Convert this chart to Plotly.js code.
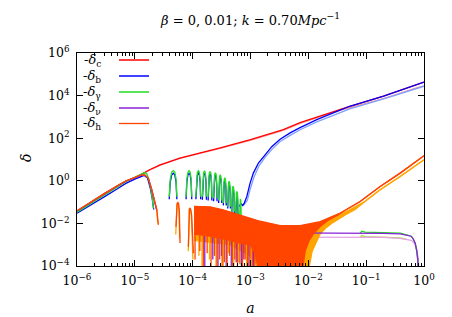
<!DOCTYPE html>
<html><head><meta charset="utf-8">
<script src="https://cdn.plot.ly/plotly-3.0.1.min.js"></script>
<style>html,body{margin:0;padding:0;background:#fff}#chart{width:452px;height:317px}</style>
</head><body><div id="chart"></div>
<script>
// ---------- tick labels ----------
const xTickVals = [1e-6, 1e-5, 1e-4, 1e-3, 1e-2, 1e-1, 1];
const xTickText = ['10<sup>−6</sup>','10<sup>−5</sup>','10<sup>−4</sup>','10<sup>−3</sup>','10<sup>−2</sup>','10<sup>−1</sup>','10<sup>0</sup>'];
const yTickVals = [1e-4, 1e-2, 1, 1e2, 1e4, 1e6];
const yTickText = ['10<sup>−4</sup>','10<sup>−2</sup>','10<sup>0</sup>','10<sup>2</sup>','10<sup>4</sup>','10<sup>6</sup>'];
const legendLabels = ['-<i>δ</i><sub>c</sub>','-<i>δ</i><sub>b</sub>','-<i>δ</i><sub>γ</sub>','-<i>δ</i><sub>ν</sub>','-<i>δ</i><sub>h</sub>'];

// ---------- δc (CDM) ----------
const cA  = [1e-6,2e-6,3e-6,5e-6,7e-6,1e-5,1.3e-5,1.8e-5,2.75e-5,6e-5,1.35e-4,3e-4,1e-3,3.7e-3,7.2e-3,1.4e-2,2.7e-2,5.2e-2,0.2,0.76,1];
const cB0 = [0.037,0.125,0.26,0.56,0.98,1.46,2.0,3.3,5.6,11.7,20,35,85,250,537,1000,1860,3160,9550,33100,42700];
const cB1 = [0.036,0.121,0.25,0.54,0.95,1.42,1.94,3.2,5.4,11.2,19,33,80,230,490,900,1650,2750,7200,23500,28500];

// ---------- δb (baryons), beta = 0 ----------
const bA = [1e-6,2e-6,3e-6,5e-6,7e-6,1e-5,1.3e-5,1.45e-5,1.65e-5,1.85e-5,2.0e-5,2.12e-5,null,
 3.93e-5,4.10e-5,4.35e-5,4.63e-5,4.91e-5,5.16e-5,5.33e-5,null,
 7.70e-5,7.94e-5,8.28e-5,8.67e-5,9.06e-5,9.40e-5,9.64e-5,null,
 1.136e-4,1.166e-4,1.208e-4,1.256e-4,1.304e-4,1.346e-4,1.376e-4,null,
 1.47e-4,1.503e-4,1.548e-4,1.6e-4,1.652e-4,1.698e-4,1.73e-4,null,
 1.85e-4,1.888e-4,1.94e-4,2.0e-4,2.06e-4,2.112e-4,2.15e-4,null,
 2.30e-4,2.342e-4,2.402e-4,2.47e-4,2.538e-4,2.598e-4,2.64e-4,null,
 2.81e-4,2.858e-4,2.924e-4,3.0e-4,3.076e-4,3.142e-4,3.19e-4,null,
 3.39e-4,3.443e-4,3.516e-4,3.6e-4,3.684e-4,3.757e-4,3.81e-4,null,
 4.04e-4,4.097e-4,4.178e-4,4.27e-4,4.362e-4,4.443e-4,4.5e-4,null,
 4.74e-4,4.805e-4,4.896e-4,5.0e-4,5.104e-4,5.195e-4,5.26e-4,null,
 5.54e-4,5.61e-4,5.708e-4,5.82e-4,5.932e-4,6.03e-4,6.10e-4,null,
 6.4e-4,6.8e-4,7.3e-4,7.8e-4,8.63e-4,9.84e-4,1.12e-3,1.37e-3,1.79e-3,2.33e-3,3.25e-3,4.84e-3,7.2e-3,1.4e-2,2.7e-2,5.2e-2,0.2,0.76,1];
const bB0 = [0.030,0.089,0.18,0.42,0.76,1.2,1.66,1.8,1.4,0.45,0.15,0.045,null,
 0.135,0.9,1.9,2.25,1.9,0.9,0.135,null,
 0.135,0.9,1.9,2.25,1.9,0.9,0.135,null,
 0.135,0.9,1.9,2.25,1.9,0.9,0.135,null,
 0.13,0.88,1.87,2.2,1.87,0.88,0.13,null,
 0.12,0.82,1.75,2.05,1.75,0.82,0.12,null,
 0.11,0.72,1.53,1.8,1.53,0.72,0.11,null,
 0.09,0.57,1.2,1.42,1.2,0.57,0.09,null,
 0.07,0.42,0.88,1.04,0.88,0.42,0.07,null,
 0.05,0.29,0.6,0.72,0.6,0.29,0.05,null,
 0.03,0.17,0.36,0.43,0.36,0.17,0.03,null,
 0.02,0.1,0.21,0.25,0.21,0.1,0.02,null,
 0.06,0.085,0.07,0.09,0.18,0.78,2.3,6.8,16.6,40,89,178,316,741,1550,3160,9550,33100,42700];
// δb, beta = 0.01 (visible part)
const bA1 = [6.5e-4,7.0e-4,7.6e-4,8.8e-4,1.0e-3,1.15e-3,1.4e-3,1.8e-3,2.35e-3,3.25e-3,4.84e-3,7.2e-3,1.4e-2,2.7e-2,5.2e-2,0.2,0.76,1];
const bB1 = [0.07,0.08,0.07,0.12,0.45,1.5,5.0,13,30,70,135,250,580,1200,2400,7000,23000,27500];

// ---------- δγ (photons), beta = 0 ----------
const gA = [1e-6,2e-6,3e-6,5e-6,7e-6,1e-5,1.3e-5,1.45e-5,1.6e-5,1.75e-5,1.95e-5,2.1e-5,null,
 3.93e-5,4.10e-5,4.35e-5,4.63e-5,4.91e-5,5.16e-5,5.33e-5,null,
 7.70e-5,7.94e-5,8.28e-5,8.67e-5,9.06e-5,9.40e-5,9.64e-5,null,
 1.136e-4,1.166e-4,1.208e-4,1.256e-4,1.304e-4,1.346e-4,1.376e-4,null,
 1.47e-4,1.503e-4,1.548e-4,1.6e-4,1.652e-4,1.698e-4,1.73e-4,null,
 1.85e-4,1.888e-4,1.94e-4,2.0e-4,2.06e-4,2.112e-4,2.15e-4,null,
 2.30e-4,2.342e-4,2.402e-4,2.47e-4,2.538e-4,2.598e-4,2.64e-4,null,
 2.81e-4,2.858e-4,2.924e-4,3.0e-4,3.076e-4,3.142e-4,3.19e-4,null,
 3.39e-4,3.443e-4,3.516e-4,3.6e-4,3.684e-4,3.757e-4,3.81e-4,null,
 4.04e-4,4.097e-4,4.178e-4,4.27e-4,4.362e-4,4.443e-4,4.5e-4,null,
 4.74e-4,4.805e-4,4.896e-4,5.0e-4,5.104e-4,5.195e-4,5.26e-4,null,
 5.54e-4,5.61e-4,5.708e-4,5.82e-4,5.932e-4,6.03e-4,6.10e-4,null,
 6.39e-4,6.463e-4,6.564e-4,6.68e-4,6.796e-4,6.897e-4,6.97e-4,null,
 0.0787,0.0841,0.0962,0.2,0.39,0.5,0.6,0.65,0.705,0.75,0.78,0.80];
const gB0 = [0.034,0.11,0.23,0.52,0.9,1.45,2.1,2.4,2.2,1.2,0.26,0.05,null,
 0.18,1.2,2.55,3.0,2.55,1.2,0.18,null,
 0.18,1.2,2.55,3.0,2.55,1.2,0.18,null,
 0.18,1.2,2.55,3.0,2.55,1.2,0.18,null,
 0.18,1.18,2.5,2.95,2.5,1.18,0.18,null,
 0.17,1.1,2.34,2.75,2.34,1.1,0.17,null,
 0.15,0.96,2.04,2.4,2.04,0.96,0.15,null,
 0.12,0.76,1.6,1.9,1.6,0.76,0.12,null,
 0.09,0.55,1.17,1.38,1.17,0.55,0.09,null,
 0.06,0.38,0.8,0.95,0.8,0.38,0.06,null,
 0.035,0.22,0.48,0.56,0.48,0.22,0.035,null,
 0.02,0.13,0.27,0.32,0.27,0.13,0.02,null,
 0.009,0.056,0.12,0.14,0.12,0.056,0.009,null,
 0.0035,0.0043,0.0039,0.0038,0.0035,0.0029,0.0025,0.0019,0.00117,0.0005,0.0002,3e-5];
// δγ, beta = 0.01 (visible part)
const gA1 = [0.0787,0.0841,0.0962,0.2,0.39,0.5];
const gB1 = [0.0022,0.0027,0.0024,0.0023,0.0021,0.0018];

// ---------- δν (neutrinos) ----------
const nA = [1e-6,2e-6,3e-6,5e-6,7e-6,1e-5,1.3e-5,1.5e-5,1.7e-5,1.93e-5,2.15e-5,2.4e-5,null,
 1.62e-4,1.62e-4,null,2.23e-4,2.23e-4,null,2.74e-4,2.74e-4,null,3.14e-4,3.14e-4,null,3.8e-4,3.8e-4,null,
 4.65e-4,4.65e-4,null,5.66e-4,5.66e-4,null,6.97e-4,6.97e-4,null,7.68e-4,7.68e-4,null,9.4e-4,9.4e-4,null,1.13e-3,1.13e-3,null,
 3e-3,0.016,0.0787,0.2,0.387,0.5,0.6,0.65,0.705,0.75,0.78,0.80];
const nB0 = [0.038,0.125,0.25,0.57,0.95,1.4,1.84,1.8,1.3,0.44,0.13,0.04,null,
 0.004,1e-4,null,0.004,2e-4,null,0.004,5e-5,null,0.004,3e-4,null,0.004,8e-5,null,
 0.004,4e-5,null,0.004,1.5e-4,null,0.004,5e-5,null,0.004,2e-4,null,0.004,6e-5,null,0.004,5e-5,null,
 0.0036,0.0036,0.0035,0.0034,0.0032,0.0029,0.0025,0.0019,0.00117,0.0005,0.0002,3e-5];
const nA1 = [3e-3,0.016,0.0787,0.2,0.387,0.5,0.6,0.7,0.753,0.80,0.836];
const nB1 = [0.00225,0.00225,0.0022,0.0022,0.002,0.0018,0.0016,0.0011,5.6e-4,2e-4,2e-5];

// ---------- δh, beta = 0 ----------
const hA0 = [1e-6,2e-6,3e-6,5e-6,7e-6,1e-5,1.3e-5,1.5e-5,1.7e-5,1.93e-5,2.15e-5,2.4e-5,2.55e-5,null,
 5.15e-5,5.25e-5,5.4e-5,5.55e-5,5.7e-5,5.88e-5,6.0e-5,6.05e-5,null,
 8.43e-5,8.6e-5,8.8e-5,9.0e-5,9.25e-5,9.6e-5,1.0e-4,1.03e-4,null,
 1.10e-4,1.10e-4,null,1.33e-4,1.33e-4,null,1.53e-4,1.53e-4,null,1.78e-4,1.78e-4,null,2.08e-4,2.08e-4,null,
 2.38e-4,2.38e-4,null,2.63e-4,2.63e-4,null,2.93e-4,2.93e-4,null,3.23e-4,3.23e-4,null,3.54e-4,3.54e-4,null,
 3.94e-4,3.94e-4,null,4.35e-4,4.35e-4,null,4.85e-4,4.85e-4,null,5.35e-4,5.35e-4,null,5.95e-4,5.95e-4,null,
 6.56e-4,6.56e-4,null,7.27e-4,7.27e-4,null,8.08e-4,8.08e-4,null,8.9e-4,8.9e-4,null,9.8e-4,9.8e-4,null,
 1.08e-3,1.08e-3,null,1.19e-3,1.19e-3];
const hB0 = [0.039,0.129,0.26,0.59,0.98,1.45,1.9,1.86,1.35,0.46,0.14,0.044,0.0085,null,
 0.007,0.05,0.088,0.095,0.085,0.04,0.008,0.0012,null,
 0.0008,0.03,0.048,0.051,0.045,0.025,0.004,0.0004,null,
 0.004,2e-4,null,0.004,5e-4,null,0.004,3e-5,null,0.004,4e-4,null,0.004,8e-5,null,
 0.004,3e-4,null,0.004,5e-5,null,0.004,2e-4,null,0.004,6e-5,null,0.004,1.5e-4,null,
 0.004,5e-5,null,0.004,3e-4,null,0.004,8e-5,null,0.004,2e-4,null,0.004,4e-5,null,
 0.004,1.2e-4,null,0.004,6e-5,null,0.004,2e-4,null,0.004,5e-5,null,0.004,1e-4,null,
 0.004,4e-5,null,0.004,8e-5];
// dense oscillation envelope of δh (beta = 0): lower and upper edges
const hLoA0 = [1.057e-4,2.0e-4,4.44e-4,6.6e-4,9.84e-4,1.2e-3,1.39e-3,7.82e-3,8.81e-3,1.033e-2,1.259e-2,0.016,0.022,0.0328,0.0434,0.0787,0.1746,0.387,1];
const hLo0  = [0.00316,0.0025,0.00158,0.0012,0.001,4e-4,5e-5,5e-5,5e-4,1.58e-3,3.55e-3,7.1e-3,0.0141,0.0251,0.0417,0.107,0.537,2.29,15.1];
const hUpA0 = [1.057e-4,1.34e-4,2.0e-4,3.36e-4,6.6e-4,1.47e-3,3.25e-3,7.2e-3,0.016,0.0355,0.0434,0.0787,0.1746,0.387,1];
const hUp0  = [0.063,0.063,0.060,0.0437,0.0251,0.0126,0.0079,0.0079,0.012,0.0302,0.0417,0.107,0.537,2.29,15.1];

// ---------- δh, beta = 0.01 ----------
const hA1 = [1e-6,3e-6,7e-6,1.3e-5,1.5e-5,1.7e-5,1.93e-5,2.15e-5,2.4e-5,2.5e-5,null,
 5.1e-5,5.2e-5,5.35e-5,5.5e-5,5.65e-5,5.8e-5,5.95e-5,null,
 8.4e-5,8.55e-5,8.75e-5,8.95e-5,9.2e-5,9.5e-5,9.9e-5,1.01e-4,null,
 1.28e-4,1.28e-4,null,1.45e-4,1.45e-4,null,1.95e-4,1.95e-4,null,2.53e-4,2.53e-4,null,3.39e-4,3.39e-4,null,
 4.15e-4,4.15e-4,null,5.15e-4,5.15e-4,null,6.26e-4,6.26e-4,null,8.5e-4,8.5e-4,null,1.03e-3,1.03e-3,null,1.26e-3,1.26e-3];
const hB1 = [0.038,0.25,0.96,1.86,1.82,1.3,0.44,0.13,0.04,0.01,null,
 0.003,0.04,0.08,0.088,0.078,0.035,0.002,null,
 0.0005,0.028,0.045,0.048,0.042,0.022,0.002,0.0002,null,
 0.004,3e-4,null,0.004,6e-5,null,0.004,2e-4,null,0.004,5e-5,null,0.004,1e-4,null,
 0.004,4e-4,null,0.004,5e-5,null,0.004,1.5e-4,null,0.004,5e-5,null,0.004,1e-4,null,0.004,5e-5];
const hLoA1 = [1.057e-4,4.44e-4,9.84e-4,1.585e-3,9.93e-3,1.164e-2,1.365e-2,0.016,0.0203,0.0269,0.0434,0.0646,0.0962,0.1746,0.387,1];
const hLo1  = [0.0016,0.001,3e-4,5e-5,5e-5,5e-4,1.26e-3,3.16e-3,6.3e-3,0.0112,0.0251,0.0447,0.11,0.38,1.58,9.8];
const hUpA1 = [1.057e-4,2.0e-4,6.6e-4,1.47e-3,3.25e-3,7.2e-3,0.016,0.0355,0.0528,0.0787,0.0962,0.1746,0.387,1];
const hUp1  = [0.05,0.05,0.02,0.01,0.0063,0.0063,0.01,0.0251,0.0447,0.079,0.11,0.38,1.58,9.8];

// ---------- colours ----------
const RED='#ff0000', RED_L='#ff9a9a', BLUE='#0000ff', BLUE_L='#7f9fff', GREEN='#22dd22', GREEN_L='#a8e23c',
      PURPLE='#8a22d8', PURPLE_L='#e6a2e6', ORR='#ff4500', ORANGE='#ffa500';
const LW = 1.3;

function line(x, y, color, extra) {
  return Object.assign({type:'scatter', mode:'lines', x:x, y:y, line:{color:color, width:LW},
    connectgaps:false, showlegend:false, hoverinfo:'skip', name:' '}, extra||{});
}

const data = [
  // beta = 0.01 family first
  line(cA, cB1, RED_L),
  line(bA1, bB1, BLUE_L),
  line(gA1, gB1, GREEN_L),
  line(nA1, nB1, PURPLE_L),
  line(hLoA1, hLo1, ORANGE),
  line(hUpA1, hUp1, ORANGE, {fill:'tonexty', fillcolor:ORANGE}),
  line(hA1, hB1, ORANGE),
  // beta = 0 family
  line(cA, cB0, RED, {showlegend:true, legend:'legend'}),
  line(bA, bB0, BLUE, {showlegend:true, legend:'legend2'}),
  line(gA, gB0, GREEN, {showlegend:true, legend:'legend3'}),
  line(nA, nB0, PURPLE, {showlegend:true, legend:'legend4'}),
  line(hLoA0, hLo0, ORR),
  line(hUpA0, hUp0, ORR, {fill:'tonexty', fillcolor:ORR}),
  line(hA0, hB0, ORR, {showlegend:true, legend:'legend5'})
];

const W = 452, H = 317, L = 77, R = 28, T = 53, B = 51;
const pw = W - L - R, ph = H - T - B;
const serif = 'DejaVu Serif';
const keyCentersPx = [60, 76, 92, 108, 123.5];
const annotations = legendLabels.map((t, i) => ({
  text: t, xref:'paper', yref:'paper', x: (103 - L)/pw, y: (H - B - keyCentersPx[i]) / ph,
  xanchor:'right', yanchor:'middle', showarrow:false, font:{family:serif, size:13, color:'#000'}
}));
// y-axis title, placed where the reference shows it
annotations.push({text:'<i>δ</i>', xref:'paper', yref:'paper', x:(26 - L)/pw, y:(H - B - 158)/ph,
  xanchor:'center', yanchor:'middle', textangle:-90, showarrow:false, font:{family:serif, size:14, color:'#000'}});
function keyLegend(i) {
  return {x:(114 - L)/pw, y:(H - B - keyCentersPx[i]) / ph, xanchor:'left', yanchor:'middle',
    bgcolor:'rgba(0,0,0,0)', borderwidth:0, font:{family:serif, size:10}};
}

const axisCommon = {
  type:'log', showgrid:false, zeroline:false, showline:true, linecolor:'#000', linewidth:1,
  mirror:'ticks', ticks:'inside', ticklen:6, tickwidth:1, tickcolor:'#000',
  tickfont:{family:serif, size:12.5, color:'#000'}, tickmode:'array'
};

const layout = {
  width:W, height:H, margin:{l:L, r:R, t:T, b:B}, paper_bgcolor:'#fff', plot_bgcolor:'#fff',
  title:{text:'<i>β</i> = 0, 0.01; <i>k</i> = 0.70<i>Mpc</i><sup>−1</sup>', font:{family:serif, size:13, color:'#000'},
         xref:'paper', x:0.5, xanchor:'center', yref:'container', y:1 - 20/H, yanchor:'middle'},
  xaxis: Object.assign({}, axisCommon, {range:[-6, 0], tickvals:xTickVals, ticktext:xTickText, ticklabelstandoff:3,
    minor:{dtick:'D1', ticks:'inside', ticklen:3, tickcolor:'#000', showgrid:false},
    title:{text:'<i>a</i>', font:{family:serif, size:14, color:'#000'}, standoff:16}}),
  yaxis: Object.assign({}, axisCommon, {range:[-4, 6], tickvals:yTickVals, ticktext:yTickText, ticklabelstandoff:4}),
  legend: keyLegend(0), legend2: keyLegend(1), legend3: keyLegend(2), legend4: keyLegend(3), legend5: keyLegend(4),
  annotations: annotations,
  showlegend:true
};

Plotly.newPlot('chart', data, layout, {staticPlot:true, displayModeBar:false});
</script>
</body></html>
